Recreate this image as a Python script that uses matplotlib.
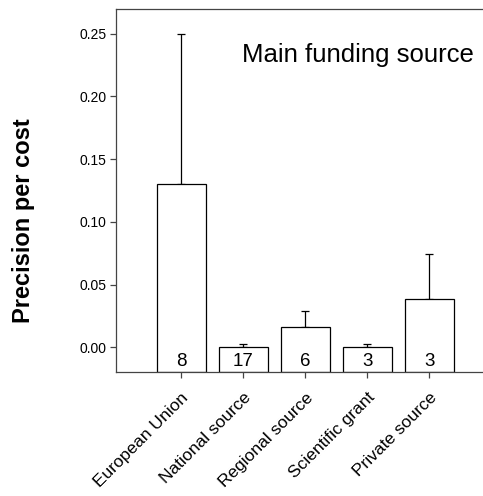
import matplotlib
matplotlib.use("Agg")
import matplotlib.pyplot as plt
import numpy as np

plt.rcParams['font.family'] = ['Liberation Sans', 'DejaVu Sans']

# data
sources = ["European Union", "National source", "Regional source",
           "Scientific grant", "Private source"]
precision_per_cost = [0.130, 0.0005, 0.0162, 0.0005, 0.0388]
upper_err = [0.120, 0.0025, 0.0128, 0.0025, 0.0359]
n_projects = [8, 17, 6, 3, 3]
y_ticks = [0.00, 0.05, 0.10, 0.15, 0.20, 0.25]

y_min, y_max = -0.0197, 0.2698

fig = plt.figure(figsize=(4.83, 4.96), dpi=100)
ax = fig.add_axes([0.240, 0.250, 0.760, 0.732])

x = np.arange(len(sources))
# bars are drawn from the bottom of the axis up to the value
heights = np.array(precision_per_cost) - y_min
ax.bar(x, heights, bottom=y_min, width=0.79, color='white', edgecolor='black',
       linewidth=0.9, zorder=2)
ax.errorbar(x, precision_per_cost, yerr=[np.zeros(len(x)), upper_err],
            fmt='none', ecolor='black', elinewidth=0.9, capsize=3,
            capthick=0.9, zorder=1)

for xi, n in zip(x, n_projects):
    ax.text(xi, -0.0115, str(n), ha='center', va='center', fontsize=13.5,
            zorder=3)

ax.text(0.975, 0.872, "Main funding source", transform=ax.transAxes,
        ha='right', va='center', fontsize=18.5)

ax.set_xlim(-1.05, 4.87)
ax.set_ylim(y_min, y_max)
ax.set_yticks(y_ticks)
ax.set_yticklabels([f"{v:.2f}" for v in y_ticks], fontsize=10)
ax.set_xticks(x)
ax.set_xticklabels(sources, rotation=45, ha='right', rotation_mode='anchor',
                   fontsize=12.5)
ax.tick_params(axis='both', direction='out', length=4, width=0.9,
               color='#444444')
ax.tick_params(axis='y', pad=3)
ax.tick_params(axis='x', pad=9)

ax.set_ylabel("Precision per cost", fontsize=17, fontweight='bold')
ax.yaxis.set_label_coords(-0.22, 0.416)

for side in ['left', 'bottom', 'top']:
    ax.spines[side].set_linewidth(0.9)
    ax.spines[side].set_color('#444444')
ax.spines['right'].set_visible(False)

fig.savefig("out.png", dpi=100)
